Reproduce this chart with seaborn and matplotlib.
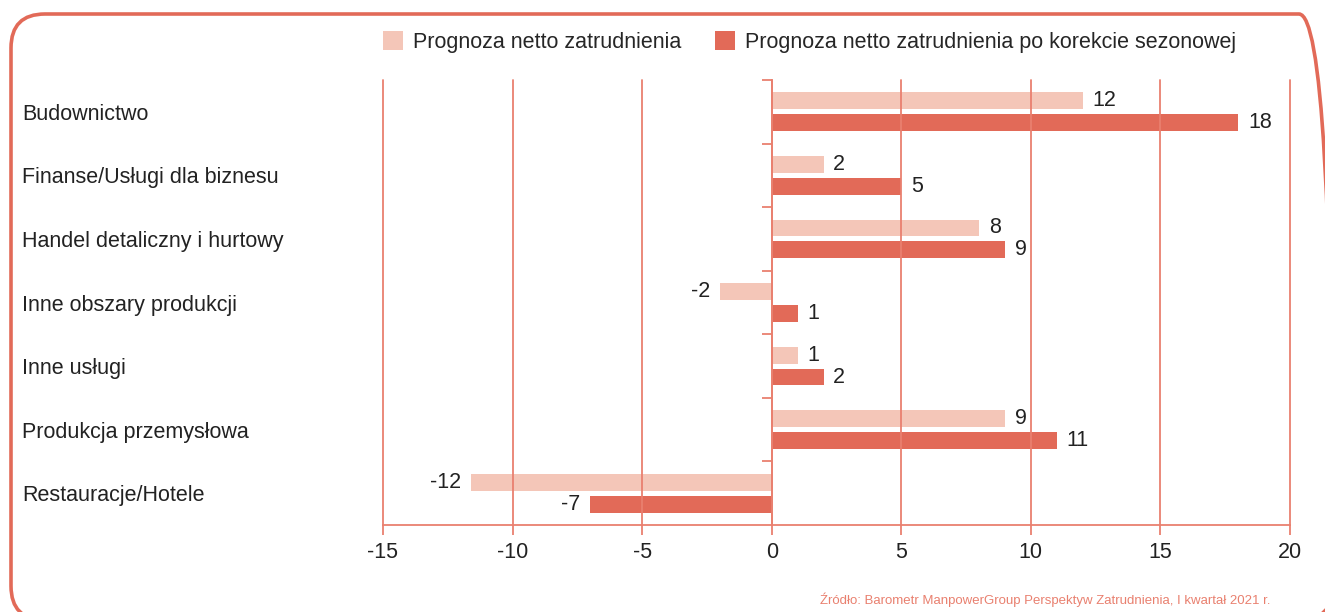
import matplotlib
matplotlib.use("Agg")
import matplotlib.pyplot as plt
from matplotlib.patches import FancyBboxPatch
from matplotlib.transforms import IdentityTransform
import numpy as np
import pandas as pd
import seaborn as sns

categories = ['Budownictwo', 'Finanse/Usługi dla biznesu', 'Handel detaliczny i hurtowy',
              'Inne obszary produkcji', 'Inne usługi', 'Produkcja przemysłowa',
              'Restauracje/Hotele']
netto = [12, 2, 8, -2, 1, 9, -11.6]
netto_sezon = [18, 5, 9, 1, 2, 11, -7]
series = ['Prognoza netto zatrudnienia', 'Prognoza netto zatrudnienia po korekcie sezonowej']
xticks = [-15, -10, -5, 0, 5, 10, 15, 20]
source = 'Źródło: Barometr ManpowerGroup Perspektyw Zatrudnienia, I kwartał 2021 r.'

light = '#F4C6B8'
dark = '#E26A58'
line = '#E9806F'
txt = '#222222'

df = pd.DataFrame({
    'kategoria': categories * 2,
    'wartosc': netto + netto_sezon,
    'seria': [series[0]] * len(categories) + [series[1]] * len(categories),
})

sns.set_style('white')
plt.rcParams['font.family'] = ['Liberation Sans', 'DejaVu Sans']
plt.rcParams['axes.unicode_minus'] = False

fig = plt.figure(figsize=(13.25, 6.12), dpi=100)
ax = fig.add_axes([383 / 1325, 1 - 525 / 612, 907 / 1325, 445 / 612])

sns.barplot(data=df, x='wartosc', y='kategoria', hue='seria', hue_order=series,
            order=categories, palette=[light, dark], orient='h', saturation=1,
            width=0.69, gap=0.23, errorbar=None, linewidth=0, ax=ax)

for cont in ax.containers:
    ax.bar_label(cont, fmt='%.0f', padding=7, fontsize=15.5, color=txt)

ax.set_xlim(-15, 20)
ax.set_ylim(6.5, -0.5)
ax.set_xticks(xticks)
ax.set_xlabel('')
ax.set_ylabel('')
ax.grid(axis='x', color=line, linewidth=1.3)
ax.grid(axis='y', visible=False)
ax.set_axisbelow(False)
for gl in ax.get_xgridlines():
    gl.set_clip_on(False)

# zero line with small ticks between categories
ax.spines['left'].set_position(('data', 0))
ax.spines['left'].set_color(line)
ax.spines['left'].set_linewidth(1.3)
ax.spines['bottom'].set_color(line)
ax.spines['bottom'].set_linewidth(1.3)
ax.spines['top'].set_visible(False)
ax.spines['right'].set_visible(False)

ax.set_yticks(range(len(categories)), labels=categories)
ax.set_yticks(np.arange(-0.5, len(categories) - 0.5), minor=True)
ax.tick_params(axis='y', which='major', length=0, pad=(771.7 - 22) * 0.72,
               labelsize=15.5, labelcolor=txt)
ax.tick_params(axis='y', which='minor', left=True, length=7.2, width=1.3, color=line)
for lab in ax.get_yticklabels():
    lab.set_horizontalalignment('left')
ax.tick_params(axis='x', bottom=True, length=7.2, width=1.3, color=line, pad=5,
               labelsize=15.5, labelcolor=txt)

handles, labels = ax.get_legend_handles_labels()
ax.get_legend().remove()
fig.legend(handles, labels, loc='center left', bbox_to_anchor=(383 / 1325, 1 - 42 / 612),
           ncol=2, frameon=False, fontsize=15.5, handlelength=0.95, handleheight=1.0,
           handletextpad=0.45, columnspacing=1.55, borderpad=0, borderaxespad=0)

fig.text(1270 / 1325, 1 - 600 / 612, source, ha='right', va='center',
         fontsize=9.5, color=line)

# rounded frame, partly running off the right and bottom edges
border = FancyBboxPatch((11, -8), 1322, 612 - 14 + 8,
                        boxstyle='round,pad=0,rounding_size=34',
                        transform=IdentityTransform(), fill=False,
                        edgecolor=dark, linewidth=2.6)
fig.add_artist(border)

fig.savefig('out.png', dpi=100)
